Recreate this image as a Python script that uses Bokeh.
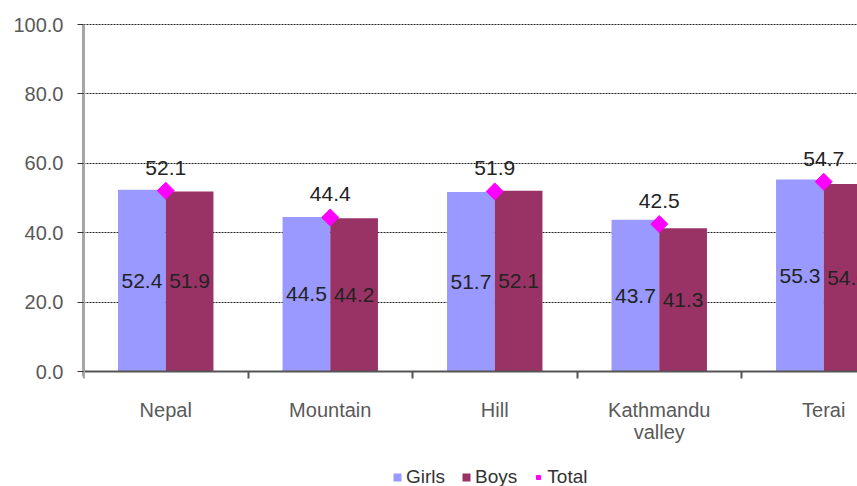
import math
from bokeh.plotting import figure
from bokeh.models import (ColumnDataSource, FixedTicker, Range1d, Legend, LegendItem,
                          NumeralTickFormatter)
from bokeh.core.properties import value
from bokeh.embed import file_html
from bokeh.resources import INLINE

categories = ["Nepal", "Mountain", "Hill", "Kathmandu\nvalley", "Terai"]
girls = [52.4, 44.5, 51.7, 43.7, 55.3]
boys = [51.9, 44.2, 52.1, 41.3, 54.0]
total = [52.1, 44.4, 51.9, 42.5, 54.7]
y_ticks = [0, 20, 40, 60, 80, 100]

FONT = "Liberation Sans"
n = len(categories)
centers = [i + 0.5 for i in range(n)]
bw = 0.29

src = ColumnDataSource(dict(
    xc=centers,
    xg=[c - bw / 2 for c in centers],
    xb=[c + bw / 2 for c in centers],
    girls=girls, boys=boys, total=total,
    gmid=[v / 2 for v in girls], bmid=[v / 2 for v in boys],
    glab=[f"{v:.1f}" for v in girls], blab=[f"{v:.1f}" for v in boys],
    tlab=[f"{v:.1f}" for v in total],
))

px_per_cat = 164.5
px_per_unit = 3.47
FW, FH = 774, 463
MT = 23
y_top = y_ticks[-1] + 1 / px_per_unit
y_bot = y_top - FH / px_per_unit
p = figure(frame_width=FW, frame_height=FH,
           x_range=Range1d(0, FW / px_per_cat), y_range=Range1d(y_bot, y_top),
           output_backend="svg", toolbar_location=None,
           min_border_left=83, min_border_right=0, min_border_top=MT, min_border_bottom=0)
p.outline_line_color = None
p.background_fill_color = "white"
p.border_fill_color = "white"

rg = p.vbar(x="xg", width=bw, top="girls", bottom=0, source=src,
            fill_color="#9999FF", line_color=None)
rb = p.vbar(x="xb", width=bw, top="boys", bottom=0, source=src,
            fill_color="#993366", line_color=None)

p.text(x="xg", y="gmid", text="glab", source=src, text_align="center",
       text_baseline="middle", text_font=value(FONT), text_font_size="21px",
       text_color="#222222")
p.text(x="xb", y="bmid", text="blab", source=src, text_align="center",
       text_baseline="middle", text_font=value(FONT), text_font_size="21px",
       text_color="#222222")

rt = p.scatter(x="xc", y="total", source=src, marker="square", angle=math.pi / 4,
               size=12, fill_color="#FF00FF", line_color="#FF00FF")
p.text(x="xc", y="total", text="tlab", source=src, text_align="center",
       text_baseline="middle", y_offset=-23, text_font=value(FONT),
       text_font_size="21px", text_color="#222222")

# grid
p.xgrid.visible = False
p.ygrid.ticker = FixedTicker(ticks=y_ticks)
p.ygrid.grid_line_color = "#222222"
p.ygrid.grid_line_dash = "2 1"
p.ygrid.grid_line_width = 1

# y axis
ya = p.yaxis[0]
ya.ticker = FixedTicker(ticks=y_ticks)
ya.bounds = (y_ticks[0] - 1.5, y_ticks[-1])
ya.formatter = NumeralTickFormatter(format="0.0")
ya.axis_line_color = "#A6A6A6"
ya.axis_line_width = 3
ya.major_tick_out = 6
ya.major_tick_in = 0
ya.major_tick_line_color = "#333333"
ya.minor_tick_line_color = None
ya.major_label_standoff = 14
ya.major_label_text_font = FONT
ya.major_label_text_font_size = "20px"
ya.major_label_text_color = "#595959"

# x axis, drawn at y = 0 inside the frame
xa = p.xaxis[0]
xa.fixed_location = 0
xa.ticker = FixedTicker(ticks=centers, minor_ticks=list(range(n + 1)))
xa.major_label_overrides = {c: name for c, name in zip(centers, categories)}
xa.axis_line_color = "#555555"
xa.axis_line_width = 2
xa.major_tick_out = 0
xa.major_tick_in = 0
xa.minor_tick_out = 7
xa.minor_tick_in = 0
xa.minor_tick_line_color = "#555555"
xa.minor_tick_line_width = 2
xa.major_label_standoff = 20
xa.major_label_text_font = FONT
xa.major_label_text_font_size = "20px"
xa.major_label_text_line_height = 1.0
xa.major_label_text_color = "#595959"

legend = Legend(items=[LegendItem(label="Girls", renderers=[rg]),
                       LegendItem(label="Boys", renderers=[rb]),
                       LegendItem(label="Total", renderers=[rt])],
                orientation="horizontal", location=(309, -2),
                border_line_color=None, background_fill_alpha=0,
                label_text_font=FONT, label_text_font_size="19px",
                label_text_color="#333333", glyph_width=10, glyph_height=10,
                label_standoff=4, spacing=16, padding=0, margin=0,
                label_height=16)
p.add_layout(legend, "center")

open("out.html", "w").write(file_html(p, INLINE))
